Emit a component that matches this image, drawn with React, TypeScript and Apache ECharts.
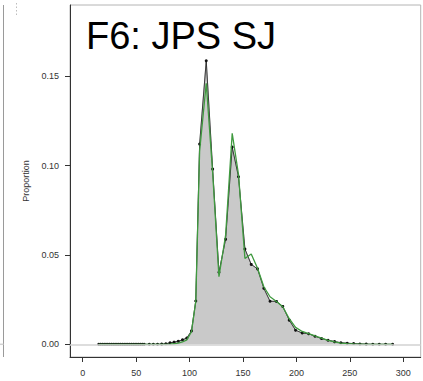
import React, { useEffect, useRef } from "react";
import * as echarts from "echarts";

const sizes: number[] = [
  15, 16.7, 18.4, 20.1, 21.8, 23.5, 25.2, 26.9, 28.6, 30.3, 32, 33.7, 35.4, 37.1, 38.8,
  40.5, 42.2, 43.9, 45.6, 47.3, 49, 50.7, 52.4, 54.1, 55.8, 57.5,
  62.3, 66.1, 70.0, 73.9, 77.8, 81.7, 85.5, 89.4, 93.4, 97.4, 101.8, 105.8, 109.4,
  115.6, 121.6, 127.5, 133.7, 139.9, 145.8, 151.8, 157.7, 163.6, 169.5, 175.3, 181.3,
  187.2, 193.3, 199.2, 205.4, 211.4, 217.4, 223.5, 229.6, 235.7, 241.6, 247.5, 253.5,
  259.4, 265.3, 271.5, 277.5, 283.5, 290,
];

const observed: number[] = [
  0, 0, 0, 0, 0, 0, 0, 0, 0, 0, 0, 0, 0, 0, 0,
  0, 0, 0, 0, 0, 0, 0, 0, 0, 0, 0,
  0, 0, 0, 0.0001, 0.0003, 0.0008, 0.0012, 0.0017, 0.0025, 0.0035, 0.0075, 0.0242, 0.112,
  0.1586, 0.098, 0.0403, 0.0587, 0.1103, 0.0937, 0.0533, 0.0447, 0.0422, 0.0313, 0.0241, 0.024,
  0.0212, 0.0135, 0.0079, 0.0063, 0.0059, 0.0045, 0.0032, 0.0023, 0.0015, 0.0009, 0.0006, 0.0004,
  0.0002, 0.0001, 0, 0, 0, 0,
];

const fitted: number[] = [
  0, 0, 0, 0, 0, 0, 0, 0, 0, 0, 0, 0, 0, 0, 0,
  0, 0, 0, 0, 0, 0, 0, 0, 0, 0, 0,
  0, 0, 0, 0, 0, 0.0001, 0.0003, 0.0007, 0.0013, 0.0025, 0.007, 0.024, 0.108,
  0.146, 0.096, 0.0378, 0.061, 0.118, 0.095, 0.048, 0.0505, 0.0425, 0.0322, 0.0266, 0.024,
  0.021, 0.0143, 0.0095, 0.0072, 0.006, 0.0047, 0.0035, 0.0022, 0.0013, 0.0007, 0.0004, 0.0002,
  0.0001, 0, 0, 0, 0, 0,
];

const xTicks: number[] = [0, 50, 100, 150, 200, 250, 300];
const yTicks: number[] = [0, 0.05, 0.1, 0.15];
const titleText = "F6: JPS SJ";
const yName = "Proportion";

export default function App() {
  const ref = useRef<HTMLDivElement>(null);
  useEffect(() => {
    if (!ref.current) return;
    const chart = echarts.init(ref.current, undefined, { renderer: "svg" });
    const obsData = sizes.map((x, i) => [x, observed[i]]);
    const fitData = sizes.map((x, i) => [x, fitted[i]]);
    const font = "'Liberation Sans', Arial, Helvetica, sans-serif";
    chart.setOption({
      animation: false,
      backgroundColor: "#ffffff",
      textStyle: { fontFamily: font },
      grid: {
        left: 70,
        top: 5,
        width: 350.7,
        height: 352,
        show: true,
        borderColor: "#b4b4b4",
        borderWidth: 1,
        backgroundColor: "transparent",
      },
      xAxis: {
        type: "value",
        min: -11.9,
        max: 316.3,
        axisLine: { show: true, onZero: false, lineStyle: { color: "#333", width: 1 } },
        axisTick: { show: true, length: 5, customValues: xTicks, lineStyle: { color: "#333" } },
        axisLabel: {
          customValues: xTicks,
          fontSize: 9,
          color: "#333",
          margin: 11,
          fontFamily: font,
        },
        splitLine: { show: false },
      },
      yAxis: {
        type: "value",
        min: -0.0071,
        max: 0.1898,
        name: yName,
        nameLocation: "middle",
        nameGap: 36,
        nameRotate: 90,
        nameTextStyle: { fontSize: 9, color: "#333", fontFamily: font },
        axisLine: { show: true, onZero: false, lineStyle: { color: "#333", width: 1 } },
        axisTick: { show: true, length: 5, customValues: yTicks, lineStyle: { color: "#333" } },
        axisLabel: {
          customValues: yTicks,
          fontSize: 9,
          color: "#333",
          margin: 11,
          fontFamily: font,
          formatter: (v: number) => v.toFixed(2),
        },
        splitLine: { show: false },
      },
      series: [
        {
          type: "line",
          data: obsData,
          z: 1,
          showSymbol: false,
          symbol: "none",
          lineStyle: { width: 0.8, color: "#8c8c8c" },
          areaStyle: { color: "#c9c9c9", opacity: 1 },
          markLine: {
            silent: true,
            symbol: ["none", "none"],
            label: { show: false },
            lineStyle: { color: "#d2d2d2", width: 1.5, type: "solid" },
            data: [{ yAxis: 0 }],
          },
        },
        {
          type: "line",
          data: obsData,
          z: 3,
          symbol: "circle",
          symbolSize: 3,
          itemStyle: { color: "#111" },
          lineStyle: { width: 0.8, color: "#222" },
        },
        {
          type: "line",
          data: fitData,
          z: 4,
          symbol: "none",
          lineStyle: { width: 1.3, color: "#3f9a3f" },
        },
      ],
      graphic: [
        {
          type: "text",
          x: 86,
          y: 36,
          style: {
            text: titleText,
            fontSize: 38,
            fontFamily: font,
            fill: "#000",
            textVerticalAlign: "middle",
            textAlign: "left",
          },
        },
        {
          type: "line",
          shape: { x1: 3.5, y1: 5, x2: 3.5, y2: 357 },
          style: { stroke: "#9a9a9a", lineWidth: 1 },
        },
        {
          type: "line",
          shape: { x1: 0, y1: 344.3, x2: 3.5, y2: 344.3 },
          style: { stroke: "#d2d2d2", lineWidth: 1.5 },
        },
        {
          type: "line",
          shape: { x1: 16.5, y1: 3, x2: 16.5, y2: 16 },
          style: { stroke: "#bdbdbd", lineWidth: 1, lineDash: [1.5, 2] },
        },
      ],
    });
    return () => chart.dispose();
  }, []);
  return (
    <div
      ref={ref}
      style={{ position: "fixed", left: 0, top: 0, width: 423, height: 381, background: "#fff" }}
    />
  );
}
